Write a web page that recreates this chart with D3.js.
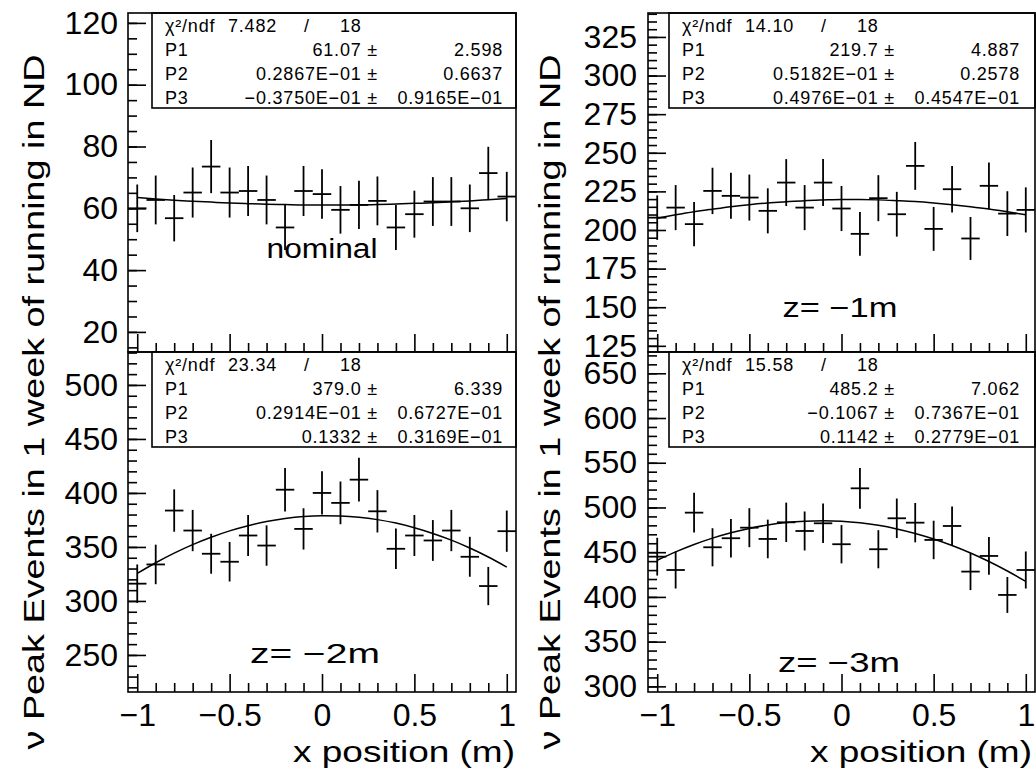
<!DOCTYPE html>
<html>
<head>
<meta charset="utf-8">
<script src="https://cdn.jsdelivr.net/npm/d3@7"></script>
<style>
  body { margin: 0; background: #fff; }
  svg { display: block; background: #fff; font-family: "Liberation Sans", Arial, Helvetica, sans-serif; }
  .axis line { stroke: #000; stroke-width: 1.6; }
  .axis text { font-size: 32px; fill: #000; font-family: "Liberation Sans", Arial, sans-serif; }
  .stats text { font-size: 18px; fill: #000; letter-spacing: 0.8px; }
  .glabel { font-size: 27px; fill: #000; }
  .title { font-size: 30px; fill: #000; }
</style>
</head>
<body>
<svg id="chart" width="1036" height="775"></svg>
<script>
'use strict';

// bin centres (x position, m), shared by all four histograms
const xCenters = [-1.0, -0.9, -0.8, -0.7, -0.6, -0.5, -0.4, -0.3, -0.2, -0.1, 0.0,
                  0.1, 0.2, 0.3, 0.4, 0.5, 0.6, 0.7, 0.8, 0.9, 1.0];
const binHalf = 0.05;

const xTickValues = [-1, -0.5, 0, 0.5, 1];
const xTickLabels = ['\u22121', '\u22120.5', '0', '0.5', '1'];

// nominal
const nominalCounts = [60.0, 62.7, 56.8, 65.1, 73.5, 65.1, 65.6, 62.7, 53.8, 65.6, 64.6,
                       59.5, 61.1, 62.4, 53.8, 58.1, 62.2, 62.2, 60.0, 71.4, 63.8];
const nominalErrors = [7.7, 7.9, 7.5, 8.1, 8.6, 8.1, 8.1, 7.9, 7.3, 8.1, 8.0,
                       7.7, 7.8, 7.9, 7.3, 7.6, 7.9, 7.9, 7.7, 8.5, 8.0];
const nominalFit = [63.5, 63.0, 62.6, 62.3, 62.0, 61.7, 61.5, 61.3, 61.2, 61.1, 61.1,
                    61.1, 61.1, 61.2, 61.4, 61.6, 61.8, 62.1, 62.4, 62.8, 63.2];
const nominalTicks = [20, 40, 60, 80, 100, 120];
const nominalChi = ['7.482', '18'];
const nominalPars = [['P1', '61.07', '2.598'],
                     ['P2', '0.2867E\u221201', '0.6637'],
                     ['P3', '\u22120.3750E\u221201', '0.9165E\u221201']];

// z = -1m
const z1Counts = [208.0, 214.5, 203.8, 225.3, 222.1, 221.0, 212.4, 230.7, 214.5, 230.7, 213.9,
                  197.5, 220.6, 210.2, 241.5, 200.7, 226.4, 194.5, 228.6, 210.6, 213.0];
const z1Errors = [14.4, 14.6, 14.3, 15.0, 14.9, 14.9, 14.6, 15.2, 14.6, 15.2, 14.6,
                  14.1, 14.9, 14.5, 15.5, 14.2, 15.0, 13.9, 15.1, 14.5, 14.6];
const z1Fit = [207.6, 209.8, 211.8, 213.5, 215.1, 216.4, 217.5, 218.3, 219.0, 219.4, 219.7,
               219.7, 219.5, 219.0, 218.4, 217.5, 216.4, 215.1, 213.6, 211.8, 209.9];
const z1Ticks = [125, 150, 175, 200, 225, 250, 275, 300, 325];
const z1Chi = ['14.10', '18'];
const z1Pars = [['P1', '219.7', '4.887'],
                ['P2', '0.5182E\u221201', '0.2578'],
                ['P3', '0.4976E\u221201', '0.4547E\u221201']];

// z = -2m
const z2Counts = [316.0, 333.8, 383.7, 365.2, 343.7, 336.3, 360.6, 351.3, 403.0, 366.7, 400.0,
                  390.8, 412.3, 383.0, 348.3, 360.6, 356.0, 365.2, 340.9, 313.8, 364.6];
const z2Errors = [17.8, 18.3, 19.6, 19.1, 18.5, 18.3, 19.0, 18.7, 20.1, 19.1, 20.0,
                  19.8, 20.3, 19.6, 18.7, 19.0, 18.9, 19.1, 18.5, 17.7, 19.1];
const z2Fit = [325.5, 335.4, 344.3, 352.2, 359.0, 364.9, 369.7, 373.5, 376.3, 378.2, 379.0,
               378.7, 377.5, 375.3, 372.1, 367.8, 362.5, 356.3, 349.0, 340.7, 331.4];
const z2Ticks = [250, 300, 350, 400, 450, 500];
const z2Chi = ['23.34', '18'];
const z2Pars = [['P1', '379.0', '6.339'],
                ['P2', '0.2914E\u221201', '0.6727E\u221201'],
                ['P3', '0.1332', '0.3169E\u221201']];

// z = -3m
const z3Counts = [445.0, 430.1, 494.2, 455.5, 465.6, 477.4, 464.8, 483.4, 473.7, 482.3, 458.9,
                  521.4, 453.3, 487.9, 483.0, 463.7, 479.3, 428.3, 445.8, 402.2, 430.1];
const z3Errors = [21.1, 20.7, 22.2, 21.3, 21.6, 21.8, 21.6, 22.0, 21.8, 22.0, 21.4,
                  22.8, 21.3, 22.1, 22.0, 21.5, 21.9, 20.7, 21.1, 20.1, 20.7];
const z3Fit = [441.0, 450.3, 458.6, 465.7, 471.7, 476.6, 480.4, 483.1, 484.7, 485.2, 484.6,
               482.8, 480.0, 476.0, 471.0, 464.8, 457.5, 449.1, 439.6, 429.0, 417.3];
const z3Ticks = [300, 350, 400, 450, 500, 550, 600, 650];
const z3Chi = ['15.58', '18'];
const z3Pars = [['P1', '485.2', '7.062'],
                ['P2', '\u22120.1067', '0.7367E\u221201'],
                ['P3', '0.1142', '0.2779E\u221201']];

const yTitle = '\u03bd Peak Events in 1 week of running in ND';
const xTitle = 'x position (m)';

// layout of the four pads
const panels = [
  { x0: 128, x1: 516, y0: 13, y1: 352, yDomain: [13.5, 123.2], yTicks: nominalTicks, minor: 5, pad: 10,
    counts: nominalCounts, errors: nominalErrors, fit: nominalFit, chi: nominalChi, pars: nominalPars,
    boxX: 152, label: 'nominal', lx: 322, ly: 258, lw: 111, xLabels: false },
  { x0: 648, x1: 1035, y0: 13, y1: 352, yDomain: [121, 340.5], yTicks: z1Ticks, minor: 5, pad: 11,
    counts: z1Counts, errors: z1Errors, fit: z1Fit, chi: z1Chi, pars: z1Pars,
    boxX: 669, label: 'z= \u22121m', lx: 840, ly: 317, lw: 115, xLabels: false },
  { x0: 128, x1: 516, y0: 352, y1: 692, yDomain: [215.7, 530.5], yTicks: z2Ticks, minor: 10, pad: 10,
    counts: z2Counts, errors: z2Errors, fit: z2Fit, chi: z2Chi, pars: z2Pars,
    boxX: 152, label: 'z= \u22122m', lx: 315, ly: 663, lw: 130, xLabels: true },
  { x0: 648, x1: 1035, y0: 352, y1: 692, yDomain: [293.7, 673.8], yTicks: z3Ticks, minor: 10, pad: 11,
    counts: z3Counts, errors: z3Errors, fit: z3Fit, chi: z3Chi, pars: z3Pars,
    boxX: 669, label: 'z= \u22123m', lx: 839, ly: 672, lw: 122, xLabels: true },
];

const svg = d3.select('#chart');

const drawPanel = function (p, k) {
  const x = d3.scaleLinear().domain([-1.05, 1.05]).range([p.x0, p.x1]);
  const y = d3.scaleLinear().domain(p.yDomain).range([p.y1, p.y0]);
  const g = svg.append('g');

  g.append('clipPath')
   .attr('id', `clip${k}`)
   .append('rect')
   .attr('x', p.x0).attr('y', p.y0)
   .attr('width', p.x1 - p.x0).attr('height', p.y1 - p.y0);

  // y ticks point into the frame
  const yMinor = d3.range(Math.ceil(p.yDomain[0] / p.minor) * p.minor, p.yDomain[1], p.minor);
  g.append('g')
   .attr('class', 'axis')
   .attr('transform', `translate(${p.x0},0)`)
   .call(d3.axisLeft(y).tickValues(yMinor).tickSize(-9).tickFormat(''))
   .call(a => a.select('.domain').remove());
  g.append('g')
   .attr('class', 'axis')
   .attr('transform', `translate(${p.x0},0)`)
   .call(d3.axisLeft(y).tickValues(p.yTicks).tickSize(-18).tickPadding(p.pad).tickFormat(d3.format('d')))
   .call(a => a.select('.domain').remove());

  // x ticks
  const xMinor = xCenters.filter(c => !xTickValues.includes(Math.round(c * 10) / 10));
  g.append('g')
   .attr('class', 'axis')
   .attr('transform', `translate(0,${p.y1})`)
   .call(d3.axisBottom(x).tickValues(xMinor).tickSize(-9).tickFormat(''))
   .call(a => a.select('.domain').remove());
  g.append('g')
   .attr('class', 'axis')
   .attr('transform', `translate(0,${p.y1})`)
   .call(d3.axisBottom(x).tickValues(xTickValues).tickSize(-18).tickPadding(11)
           .tickFormat((d, i) => p.xLabels ? xTickLabels[i] : ''))
   .call(a => a.select('.domain').remove());

  // data points with error crosses
  const pts = xCenters.map((c, i) => ({ c: c, v: p.counts[i], e: p.errors[i] }));
  const dg = g.append('g')
    .attr('clip-path', `url(#clip${k})`)
    .attr('stroke', '#000')
    .attr('stroke-width', 1.8);
  dg.selectAll('.ev')
    .data(pts)
    .join('line')
    .attr('class', 'ev')
    .attr('x1', d => x(d.c)).attr('x2', d => x(d.c))
    .attr('y1', d => y(d.v - d.e)).attr('y2', d => y(d.v + d.e));
  dg.selectAll('.eh')
    .data(pts)
    .join('line')
    .attr('class', 'eh')
    .attr('x1', d => x(d.c - binHalf)).attr('x2', d => x(d.c + binHalf))
    .attr('y1', d => y(d.v)).attr('y2', d => y(d.v));

  // fitted curve
  dg.append('path')
    .datum(xCenters.map((c, i) => [c, p.fit[i]]))
    .attr('fill', 'none')
    .attr('stroke-width', 1.5)
    .attr('d', d3.line().x(d => x(d[0])).y(d => y(d[1])).curve(d3.curveMonotoneX));

  // fit statistics box
  const sb = g.append('g').attr('class', 'stats');
  sb.append('rect')
    .attr('x', p.boxX).attr('y', p.y0)
    .attr('width', p.x1 - p.boxX).attr('height', 95)
    .attr('fill', '#fff').attr('stroke', '#000').attr('stroke-width', 1.6);
  const rowY = [18.5, 42.5, 67, 91];
  sb.append('text')
    .attr('x', p.boxX + 13).attr('y', p.y0 + rowY[0])
    .text('\u03c7\u00b2/ndf');
  sb.append('text')
    .attr('x', p.boxX + 125).attr('y', p.y0 + rowY[0])
    .attr('text-anchor', 'end')
    .text(p.chi[0]);
  sb.append('text')
    .attr('x', p.boxX + 152).attr('y', p.y0 + rowY[0])
    .text('/');
  sb.append('text')
    .attr('x', p.boxX + 188).attr('y', p.y0 + rowY[0])
    .text(p.chi[1]);
  p.pars.forEach((r, i) => {
    sb.append('text')
      .attr('x', p.boxX + 13).attr('y', p.y0 + rowY[i + 1])
      .text(r[0]);
    sb.append('text')
      .attr('x', p.boxX + 226).attr('y', p.y0 + rowY[i + 1])
      .attr('text-anchor', 'end')
      .text(r[1] + ' \u00b1');
    sb.append('text')
      .attr('x', p.boxX + 351).attr('y', p.y0 + rowY[i + 1])
      .attr('text-anchor', 'end')
      .text(r[2]);
  });

  // frame on top
  g.append('rect')
   .attr('x', p.x0).attr('y', p.y0)
   .attr('width', p.x1 - p.x0).attr('height', p.y1 - p.y0)
   .attr('fill', 'none').attr('stroke', '#000').attr('stroke-width', 1.6);

  // pad label
  g.append('text')
   .attr('class', 'glabel')
   .attr('x', p.lx).attr('y', p.ly)
   .attr('text-anchor', 'middle')
   .attr('textLength', p.lw)
   .attr('lengthAdjust', 'spacingAndGlyphs')
   .text(p.label);
};

panels.forEach(drawPanel);

// axis titles, one per column
[44, 560].forEach(cx => {
  svg.append('text')
     .attr('class', 'title')
     .attr('transform', `translate(${cx},402) rotate(-90)`)
     .attr('text-anchor', 'middle')
     .attr('textLength', 695)
     .attr('lengthAdjust', 'spacingAndGlyphs')
     .text(yTitle);
});
[515, 1032].forEach(rx => {
  svg.append('text')
     .attr('class', 'title')
     .attr('x', rx).attr('y', 762)
     .attr('text-anchor', 'end')
     .attr('textLength', 222)
     .attr('lengthAdjust', 'spacingAndGlyphs')
     .text(xTitle);
});
</script>
</body>
</html>
